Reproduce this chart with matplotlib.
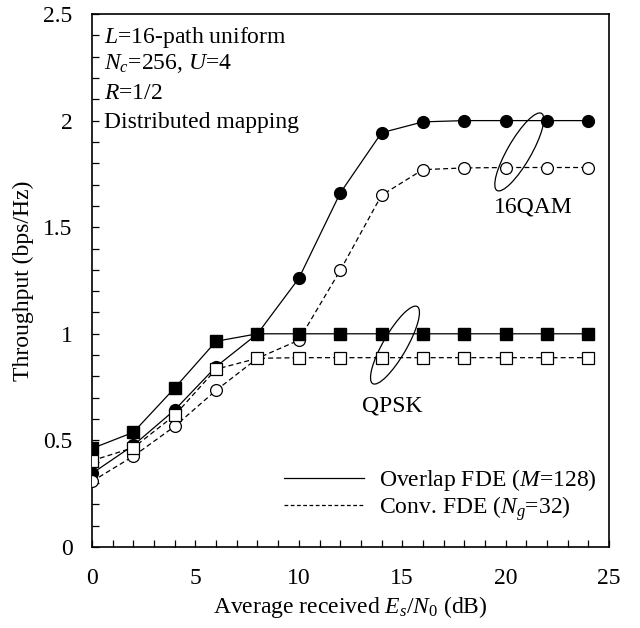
import matplotlib
matplotlib.use("Agg")
import matplotlib.pyplot as plt
from matplotlib.lines import Line2D
from matplotlib.patches import Ellipse
import matplotlib.transforms as transforms

plt.rcParams['font.family'] = ['Liberation Serif', 'DejaVu Serif']
plt.rcParams['mathtext.fontset'] = 'custom'
plt.rcParams['mathtext.rm'] = 'Liberation Serif'
plt.rcParams['mathtext.it'] = 'Liberation Serif:italic'
plt.rcParams['font.size'] = 17

# data
snr = [0, 2, 4, 6, 8, 10, 12, 14, 16, 18, 20, 22, 24]
qam_overlap = [0.345, 0.477, 0.643, 0.846, 1.0, 1.26, 1.66, 1.943, 1.994, 2.0, 2.0, 2.0, 2.0]
qam_conv = [0.308, 0.426, 0.566, 0.735, 0.885, 0.97, 1.297, 1.65, 1.77, 1.778, 1.78, 1.78, 1.78]
qpsk_overlap = [0.462, 0.538, 0.746, 0.965, 1.0, 1.0, 1.0, 1.0, 1.0, 1.0, 1.0, 1.0, 1.0]
qpsk_conv = [0.405, 0.466, 0.618, 0.834, 0.885, 0.888, 0.888, 0.888, 0.888, 0.888, 0.888, 0.888, 0.888]

fig = plt.figure(figsize=(6.4, 6.28), dpi=100)
ax = fig.add_axes([0.1438, 0.129, 0.8078, 0.8487])

dash = (4, 2.5)
ms = 8.5
ax.plot(snr, qam_overlap, '-', color='k', lw=0.9, marker='o', ms=ms, mfc='k', mec='k', zorder=3)
ax.plot(snr, qam_conv, '--', dashes=dash, color='k', lw=0.9, marker='o', ms=ms, mfc='w', mec='k', mew=0.9, zorder=4)
ax.plot(snr, qpsk_overlap, '-', color='k', lw=0.9, marker='s', ms=ms, mfc='k', mec='k', zorder=5)
ax.plot(snr, qpsk_conv, '--', dashes=dash, color='k', lw=0.9, marker='s', ms=ms, mfc='w', mec='k', mew=0.9, zorder=6)

# ellipses grouping the curves
for cx, cy in [(20.66, 1.853), (14.65, 0.947)]:
    tr = fig.dpi_scale_trans + transforms.ScaledTranslation(cx, cy, ax.transData)
    ax.add_patch(Ellipse((0, 0), 0.89, 0.236, angle=60, fill=False, ec='k', lw=0.9,
                         transform=tr, zorder=2))

ax.text(21.34, 1.593, '16QAM', ha='center', va='center')
ax.text(14.54, 0.661, 'QPSK', ha='center', va='center')

ax.text(0.58, 2.363, '$L$=16-path uniform', va='baseline')
ax.text(0.58, 2.240, '$N_c$=256, $U$=4', va='baseline')
ax.text(0.58, 2.103, '$R$=1/2', va='baseline')
ax.text(0.58, 1.964, 'Distributed mapping', va='baseline')

handles = [Line2D([], [], color='k', lw=0.9, ls='-'),
           Line2D([], [], color='k', lw=0.9, ls='--', dashes=(3, 2))]
ax.legend(handles, ['Overlap FDE ($M$=128)', 'Conv. FDE ($N_g$=32)'],
          loc='lower right', bbox_to_anchor=(0.976, 0.045), frameon=False,
          handlelength=3.4, handletextpad=0.64, labelspacing=0.05,
          borderpad=0, borderaxespad=0)

ax.set_xlim(0, 25)
ax.set_ylim(0, 2.5)
ax.set_xticks([0, 5, 10, 15, 20, 25])
ax.set_xticks(range(0, 26), minor=True)
ax.set_yticks([0, 0.5, 1, 1.5, 2, 2.5])
ax.set_yticklabels(['0', '0.5', '1', '1.5', '2', '2.5'])
ax.set_yticks([i / 10 for i in range(26)], minor=True)
ax.tick_params(which='both', direction='in', length=5, width=0.9, top=False, right=False)
ax.tick_params(axis='x', which='both', pad=15)
ax.tick_params(axis='y', which='both', pad=14)
for s in ax.spines.values():
    s.set_linewidth(1.2)

ax.set_xlabel('Average received $E_s$/$N_0$ (dB)')
ax.set_ylabel('Throughput (bps/Hz)')
ax.xaxis.label.set_va('center')
ax.xaxis.set_label_coords(0.5, -0.1126)
ax.yaxis.set_label_coords(-0.112, 0.5)

fig.savefig('out.png', dpi=100)
